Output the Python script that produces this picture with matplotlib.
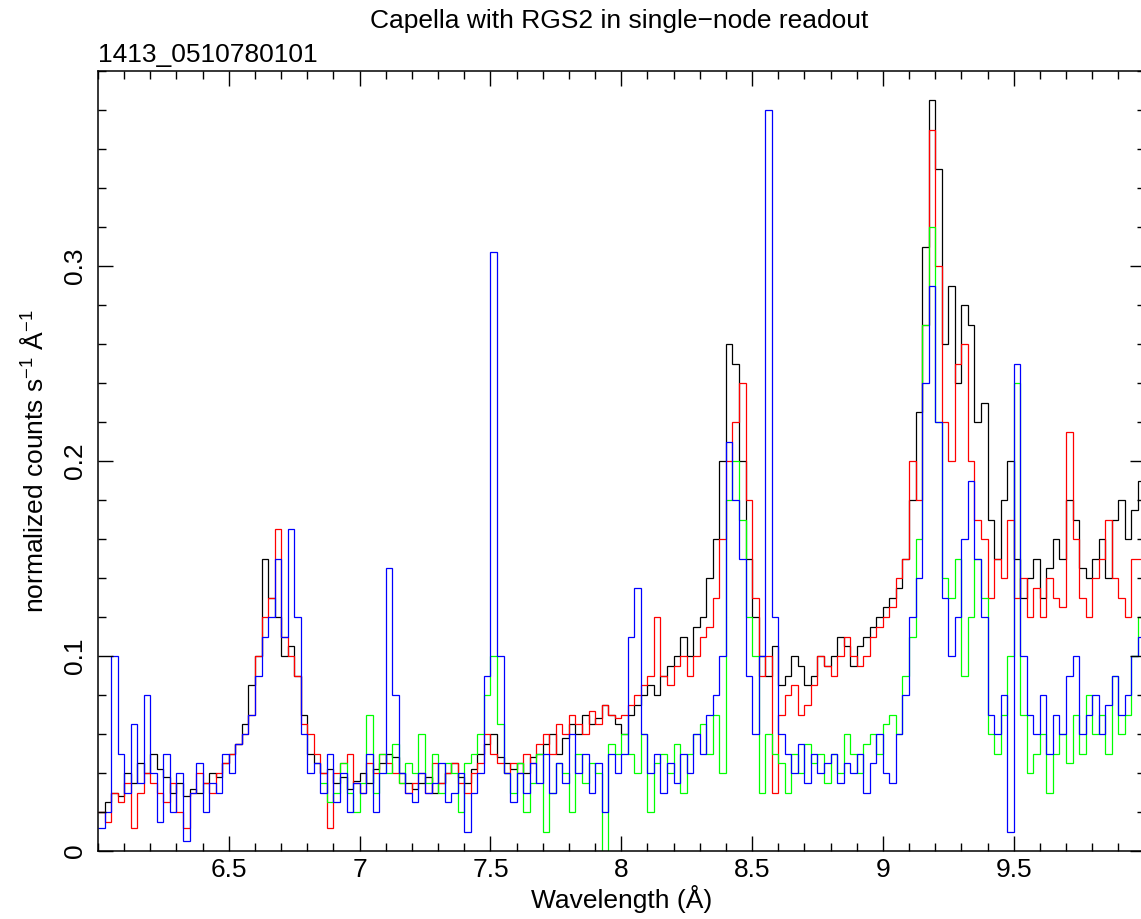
import numpy as np
import matplotlib
matplotlib.use("Agg")
import matplotlib.pyplot as plt
from matplotlib.ticker import MultipleLocator, FixedLocator, FuncFormatter

plt.rcParams['font.family'] = ['Liberation Sans', 'DejaVu Sans']
plt.rcParams['mathtext.fontset'] = 'custom'
plt.rcParams['mathtext.rm'] = 'Liberation Sans'
plt.rcParams['mathtext.it'] = 'Liberation Sans:italic'

# ---------------- data (normalized counts s^-1 A^-1), bins of 0.025 A ----------------
bin_width = 0.025
black_start = 6.0
red_start = 6.0
blue_start = 6.0
green_start = 6.85

black = [
    0.020, 0.025, 0.030, 0.028, 0.040, 0.035, 0.045, 0.040, 0.050, 0.042, 0.038, 0.030, 0.035, 0.028, 0.032, 0.030,
    0.035, 0.040, 0.038, 0.045, 0.050, 0.055, 0.065, 0.085, 0.100, 0.150, 0.130, 0.120, 0.100, 0.105, 0.090, 0.070,
    0.050, 0.045, 0.040, 0.042, 0.035, 0.038, 0.032, 0.036, 0.040, 0.035, 0.042, 0.045, 0.050, 0.048, 0.040, 0.035,
    0.032, 0.035, 0.038, 0.030, 0.035, 0.040, 0.045, 0.038, 0.035, 0.042, 0.050, 0.055, 0.060, 0.048, 0.045, 0.042,
    0.045, 0.040, 0.048, 0.050, 0.055, 0.060, 0.050, 0.058, 0.065, 0.060, 0.070, 0.065, 0.068, 0.075, 0.070, 0.065,
    0.060, 0.070, 0.075, 0.080, 0.085, 0.080, 0.090, 0.095, 0.100, 0.110, 0.100, 0.115, 0.120, 0.140, 0.160, 0.200,
    0.260, 0.250, 0.200, 0.150, 0.120, 0.100, 0.090, 0.105, 0.085, 0.090, 0.100, 0.095, 0.085, 0.090, 0.100, 0.095,
    0.100, 0.110, 0.105, 0.095, 0.105, 0.110, 0.115, 0.120, 0.125, 0.130, 0.135, 0.150, 0.180, 0.225, 0.310, 0.385,
    0.350, 0.260, 0.290, 0.240, 0.280, 0.270, 0.220, 0.230, 0.170, 0.150, 0.180, 0.200, 0.150, 0.130, 0.140, 0.150,
    0.130, 0.145, 0.160, 0.150, 0.180, 0.170, 0.145, 0.140, 0.150, 0.160, 0.140, 0.170, 0.180, 0.160, 0.175, 0.190,
]

red = [
    0.020, 0.015, 0.030, 0.025, 0.035, 0.012, 0.030, 0.040, 0.035, 0.030, 0.025, 0.035, 0.020, 0.012, 0.030, 0.040,
    0.035, 0.030, 0.040, 0.045, 0.050, 0.055, 0.060, 0.070, 0.100, 0.120, 0.130, 0.165, 0.110, 0.100, 0.090, 0.065,
    0.060, 0.050, 0.040, 0.012, 0.040, 0.045, 0.050, 0.035, 0.030, 0.045, 0.040, 0.050, 0.045, 0.040, 0.035, 0.030,
    0.035, 0.040, 0.030, 0.045, 0.035, 0.040, 0.045, 0.035, 0.030, 0.040, 0.045, 0.060, 0.050, 0.045, 0.040, 0.045,
    0.040, 0.050, 0.045, 0.055, 0.060, 0.050, 0.065, 0.060, 0.070, 0.065, 0.060, 0.072, 0.065, 0.075, 0.070, 0.068,
    0.070, 0.075, 0.080, 0.085, 0.090, 0.120, 0.090, 0.085, 0.095, 0.100, 0.090, 0.100, 0.110, 0.115, 0.130, 0.160,
    0.200, 0.220, 0.240, 0.180, 0.130, 0.090, 0.100, 0.030, 0.070, 0.080, 0.085, 0.070, 0.075, 0.085, 0.100, 0.095,
    0.090, 0.100, 0.110, 0.100, 0.095, 0.100, 0.110, 0.115, 0.120, 0.125, 0.140, 0.150, 0.200, 0.180, 0.270, 0.370,
    0.300, 0.220, 0.200, 0.250, 0.260, 0.200, 0.170, 0.160, 0.130, 0.150, 0.140, 0.170, 0.130, 0.140, 0.120, 0.135,
    0.120, 0.140, 0.130, 0.125, 0.215, 0.160, 0.130, 0.120, 0.140, 0.150, 0.170, 0.140, 0.130, 0.120, 0.150, 0.150,
]

green = [
    0.035, 0.025, 0.030, 0.045, 0.030, 0.020, 0.035, 0.070, 0.030, 0.050, 0.040, 0.055, 0.035, 0.045,
    0.040, 0.060, 0.035, 0.050, 0.030, 0.045, 0.040, 0.020, 0.045, 0.050, 0.060, 0.080, 0.100, 0.065, 0.040, 0.030,
    0.045, 0.020, 0.035, 0.050, 0.010, 0.030, 0.045, 0.040, 0.020, 0.050, 0.035, 0.045, 0.040, 0.000, 0.055, 0.050,
    0.060, 0.050, 0.040, 0.060, 0.020, 0.045, 0.050, 0.040, 0.055, 0.030, 0.050, 0.060, 0.065, 0.050, 0.070, 0.040,
    0.180, 0.200, 0.170, 0.120, 0.100, 0.030, 0.060, 0.050, 0.045, 0.030, 0.050, 0.040, 0.055, 0.045, 0.050, 0.035,
    0.050, 0.040, 0.060, 0.050, 0.040, 0.055, 0.060, 0.050, 0.065, 0.070, 0.060, 0.090, 0.110, 0.160, 0.270, 0.320,
    0.220, 0.140, 0.130, 0.150, 0.090, 0.120, 0.150, 0.130, 0.060, 0.050, 0.070, 0.100, 0.240, 0.070, 0.040, 0.050,
    0.060, 0.030, 0.050, 0.060, 0.045, 0.070, 0.050, 0.080, 0.060, 0.070, 0.050, 0.090, 0.060, 0.070, 0.100, 0.120,
]

blue = [
    0.012, 0.020, 0.100, 0.050, 0.030, 0.065, 0.035, 0.080, 0.040, 0.015, 0.050, 0.020, 0.040, 0.005, 0.030, 0.045,
    0.020, 0.035, 0.030, 0.050, 0.040, 0.055, 0.060, 0.070, 0.090, 0.110, 0.120, 0.150, 0.110, 0.165, 0.120, 0.060,
    0.040, 0.045, 0.030, 0.050, 0.025, 0.040, 0.020, 0.035, 0.030, 0.050, 0.020, 0.040, 0.145, 0.080, 0.040, 0.030,
    0.025, 0.040, 0.030, 0.035, 0.045, 0.025, 0.030, 0.040, 0.010, 0.030, 0.040, 0.090, 0.307, 0.100, 0.040, 0.025,
    0.040, 0.030, 0.045, 0.035, 0.050, 0.030, 0.045, 0.035, 0.060, 0.040, 0.050, 0.030, 0.045, 0.020, 0.050, 0.040,
    0.050, 0.110, 0.135, 0.060, 0.040, 0.050, 0.030, 0.045, 0.035, 0.050, 0.040, 0.060, 0.050, 0.070, 0.080, 0.100,
    0.210, 0.180, 0.150, 0.090, 0.060, 0.100, 0.380, 0.120, 0.060, 0.050, 0.040, 0.055, 0.035, 0.050, 0.040, 0.045,
    0.050, 0.035, 0.045, 0.040, 0.050, 0.030, 0.045, 0.060, 0.040, 0.035, 0.060, 0.080, 0.120, 0.140, 0.240, 0.290,
    0.220, 0.130, 0.100, 0.120, 0.160, 0.190, 0.150, 0.120, 0.070, 0.060, 0.080, 0.010, 0.250, 0.100, 0.070, 0.060,
    0.080, 0.050, 0.070, 0.060, 0.090, 0.100, 0.060, 0.070, 0.080, 0.060, 0.075, 0.090, 0.070, 0.080, 0.100, 0.110,
]

x_ticks = [6.5, 7, 7.5, 8, 8.5, 9, 9.5]
x_tick_labels = ['6.5', '7', '7.5', '8', '8.5', '9', '9.5']
y_ticks = [0, 0.1, 0.2, 0.3]
y_tick_labels = ['0', '0.1', '0.2', '0.3']

title = 'Capella with RGS2 in single\u2212node readout'
subtitle = '1413_0510780101'
xlabel = 'Wavelength (Å)'
ylabel = r'normalized counts s$^{\mathregular{-1}}$ Å$^{\mathregular{-1}}$'

# ---------------- figure ----------------
W, H = 1141, 919
fig = plt.figure(figsize=(W / 100, H / 100), dpi=100)
left, right = 98 / W, 1144.5 / W
bottom, top = (H - 851) / H, (H - 71) / H
ax = fig.add_axes([left, bottom, right - left, top - bottom])


def edges(start, n):
    return start + bin_width * np.arange(n + 1)


series = [(black, black_start, '#000000'),
          (red, red_start, '#ff0000'),
          (green, green_start, '#00ff00'),
          (blue, blue_start, '#0000ff')]
for vals, start, col in series:
    ax.stairs(vals, edges(start, len(vals)), baseline=None, color=col, lw=0.9)

ax.set_xlim(6.0, 10.0)
ax.set_ylim(0, 0.4)

ax.xaxis.set_major_locator(FixedLocator(x_ticks))
ax.set_xticklabels(x_tick_labels)
ax.xaxis.set_minor_locator(MultipleLocator(0.1))
ax.yaxis.set_major_locator(FixedLocator(y_ticks))
ax.set_yticklabels(y_tick_labels, rotation=90, va='center')
ax.yaxis.set_minor_locator(MultipleLocator(0.02))

ax.tick_params(which='both', direction='in', top=True, right=True, width=1.0, colors='black')
ax.tick_params(which='major', length=11)
ax.tick_params(which='minor', length=5.5)
ax.tick_params(axis='x', which='major', labelsize=19, pad=5)
ax.tick_params(axis='y', which='major', labelsize=19, pad=8)

for sp in ax.spines.values():
    sp.set_linewidth(1.1)

ax.set_xlabel(xlabel, fontsize=19, labelpad=2)
ax.set_ylabel(ylabel, fontsize=19)
ax.yaxis.set_label_coords((48 - 98) / (1144.5 - 98), 0.5)

fig.text((98 + 1141) / 2 / W, 1 - 28 / H, title, ha='center', va='baseline', fontsize=19)
fig.text(98 / W, 1 - 62 / H, subtitle, ha='left', va='baseline', fontsize=19)

fig.savefig('out.png', dpi=100)
